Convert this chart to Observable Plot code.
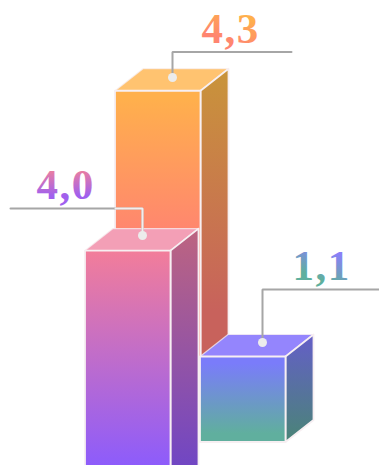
<!DOCTYPE html>
<html><head><meta charset="utf-8">
<script src="https://cdn.jsdelivr.net/npm/d3@7"></script>
<script src="https://cdn.jsdelivr.net/npm/@observablehq/plot@0.6"></script>
<style>html,body{margin:0;padding:0;background:#fff}svg{display:block}</style>
</head><body><div id="chart"></div><script>
// Data
const categories = ["orange", "pink", "teal"];
const values = [4.3, 4.0, 1.1];
const labels = ["4,3", "4,0", "1,1"];

// Layout (in scale units): where each column sits on the pseudo-3D floor
const W = 379, H = 465;
const pxPerUnit = 85.5 / 1.1;
const y0 = 442;
const u = px => px / pxPerUnit;
const floors = { orange: u(y0 - 425), pink: u(y0 - 561.5), teal: 0 };
const lefts = { orange: 115, pink: 85, teal: 200 };
const barW = 85.5, dx = 28, dy = u(22);
const styles = {
  orange: { front: ["#ffb04c", "#ff8570"], fStops: [0.02, 0.43], side: ["#c9943a", "#c8625c"], sStops: [0, 0.68], top: "#ffc370", label: ["#ffb04c", "#ff8570"] },
  pink: { front: ["#f27d9a", "#8d5cfb"], fStops: [0, 0.69], side: ["#bd6480", "#7046c4"], sStops: [0, 0.72], top: "#f39fb6", label: ["#ec7f9f", "#a060ee"] },
  teal: { front: ["#7a7cfa", "#60af9e"], fStops: [0.08, 0.9], side: ["#6360c4", "#4a8478"], sStops: [0.05, 0.98], top: "#9485fd", label: ["#8a80f8", "#5fb09e"] }
};
const leaders = {
  orange: { dot: [172, 77], knee: 51.5, end: 291 },
  pink: { dot: [142, 235], knee: 208, end: 10 },
  teal: { dot: [262, 342], knee: 289, end: 379 }
};
const labelPos = { orange: [230, 42], pink: [65, 198], teal: [321, 279] };

const Y = px => (y0 - px) / pxPerUnit; // pixel row to scale unit for annotations

const bars = categories.map((c, i) => ({
  c, value: values[i], label: labels[i], x1: lefts[c], x2: lefts[c] + barW,
  y1: floors[c], y2: floors[c] + values[i]
}));

const edge = { stroke: "#f7eff2", strokeWidth: 1.8, strokeLinejoin: "round" };

const marksFor = b => {
  const sideData = [
    { x: b.x2, y1: b.y1, y2: b.y2 },
    { x: b.x2 + dx, y1: b.y1 + dy, y2: b.y2 + dy }
  ];
  const topData = [
    { y: b.y2, x1: b.x1, x2: b.x2 },
    { y: b.y2 + dy, x1: b.x1 + dx, x2: b.x2 + dx }
  ];
  const L = leaders[b.c];
  const path = [
    { x: L.dot[0], y: Y(L.dot[1]) },
    { x: L.dot[0], y: Y(L.knee) },
    { x: L.end, y: Y(L.knee) }
  ];
  return [
    Plot.areaX(topData, { y: "y", x1: "x1", x2: "x2", fill: styles[b.c].top, curve: "linear", stroke: edge.stroke, strokeWidth: 1.2, strokeOpacity: 0.75 }),
    Plot.areaY(sideData, { x: "x", y1: "y1", y2: "y2", fill: `url(#side-${b.c})`, curve: "linear", ...edge }),
    Plot.rect([b], { x1: "x1", x2: "x2", y1: "y1", y2: "y2", fill: `url(#front-${b.c})`, ...edge }),
    Plot.line(path, { x: "x", y: "y", stroke: "#a6a6a6", strokeWidth: 2, strokeLinejoin: "miter" }),
    ...(b.c === "pink" ? [Plot.line([path[0], path[1], { x: lefts.orange, y: path[2].y }], { x: "x", y: "y", stroke: "#f1eeee", strokeWidth: 2, strokeLinejoin: "miter" })] : []),
    Plot.dot([path[0]], { x: "x", y: "y", r: 4.5, fill: "#ececec", stroke: "none" }),
    Plot.text([b], {
      x: () => labelPos[b.c][0], y: () => Y(labelPos[b.c][1]), text: "label",
      fill: `url(#text-${b.c})`, fontSize: 43, fontWeight: 700,
      fontFamily: "Liberation Serif", lineAnchor: "bottom", textAnchor: "middle",
      dy: 0, style: "letter-spacing:1.5px"
    })
  ];
};

const order = ["orange", "teal", "pink"].map(c => bars.find(b => b.c === c));

const plot = Plot.plot({
  width: W, height: H,
  marginTop: 0, marginRight: 0, marginBottom: 0, marginLeft: 0,
  style: { background: "#fff", overflow: "hidden" },
  x: { type: "linear", domain: [0, W], range: [0, W], axis: null },
  y: { type: "linear", domain: [Y(H), Y(0)], range: [H, 0], axis: null },
  marks: order.flatMap(marksFor)
});

// Gradients referenced by the marks
const defs = d3.select(plot).insert("defs", ":first-child");
const grad = (id, colors, stops, diag) => {
  const g = defs.append("linearGradient").attr("id", id)
    .attr("x1", diag ? 0.75 : 0).attr("y1", 0).attr("x2", diag ? 0.25 : 0).attr("y2", 1);
  g.append("stop").attr("offset", stops[0]).attr("stop-color", colors[0]);
  g.append("stop").attr("offset", stops[1]).attr("stop-color", colors[1]);
};
for (const c of categories) {
  const s = styles[c];
  grad(`front-${c}`, s.front, s.fStops);
  grad(`side-${c}`, s.side, s.sStops);
  grad(`text-${c}`, s.label, [0.2, 0.75], c !== "pink");
}
document.getElementById("chart").append(plot);
// Text lines inherit style strings unreliably; set spacing on the label nodes
plot.querySelectorAll("text").forEach(t => t.setAttribute("letter-spacing", "1.5"));
</script></body></html>
